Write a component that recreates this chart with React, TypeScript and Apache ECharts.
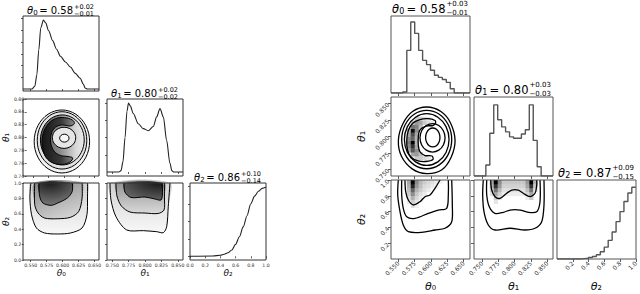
import React, { useEffect, useRef } from "react";
import * as echarts from "echarts";

const FONT = "DejaVu Sans";

// ---------------- axis ranges & ticks ----------------
const L_T0_RANGE = [0.539, 0.657];
const L_T1_RANGE = [0.742, 0.858];
const L_T1_YRANGE = [0.74, 0.86];
const R_T0_RANGE = [0.539, 0.66];
const R_T1_RANGE = [0.738, 0.859];
const R_T1_YRANGE = [0.74, 0.86];
const T2_RANGE = [0, 1];
const L_T0_DENS_RANGE = [-0.028, 1.027];
const L_T1_DENS_RANGE = [-0.058, 1.06];
const L_T2_DENS_RANGE = [-0.053, 1.047];
const R_T0_HIST_RANGE = [0, 1.085];
const R_T1_HIST_RANGE = [0, 1.11];
const R_T2_HIST_RANGE = [0, 1.1];

const T0_TICKS = [0.55, 0.575, 0.6, 0.625, 0.65];
const T1_TICKS = [0.75, 0.775, 0.8, 0.825, 0.85];
const L_T1_YTICKS = [0.74, 0.76, 0.78, 0.8, 0.82, 0.84, 0.86];
const L_T2_TICKS = [0, 0.2, 0.4, 0.6, 0.8, 1.0];
const R_T2_TICKS = [0.2, 0.4, 0.6, 0.8, 1.0];
const L_T0_DENS_TICKS = [0.165, 0.33, 0.495, 0.66, 0.825, 0.99];
const L_T1_DENS_TICKS = [0.25, 0.5, 0.75, 1.0];
const L_T2_DENS_TICKS = [0, 0.25, 0.5, 0.75, 1.0];

// ---------------- titles ----------------
const L_TITLES = [
  { sub: "0", val: "0.58", up: "+0.02", lo: "−0.01" },
  { sub: "1", val: "0.80", up: "+0.02", lo: "−0.02" },
  { sub: "2", val: "0.86", up: "+0.10", lo: "−0.14" },
];
const R_TITLES = [
  { sub: "0", val: "0.58", up: "+0.03", lo: "−0.01" },
  { sub: "1", val: "0.80", up: "+0.03", lo: "−0.03" },
  { sub: "2", val: "0.87", up: "+0.09", lo: "−0.15" },
];

// ---------------- left: smooth marginals [theta, density] ----------------
const L_T0_KDE = [[0.539, 0], [0.5528, 0], [0.5574, 0.04], [0.5605, 0.2], [0.5635, 0.55], [0.5666, 0.86], [0.5707, 0.97], [0.5742, 0.93], [0.5788, 0.82], [0.585, 0.68], [0.5911, 0.56], [0.5972, 0.46], [0.6049, 0.38], [0.6126, 0.31], [0.6202, 0.22], [0.6279, 0.15], [0.6325, 0.07], [0.6355, 0.015], [0.6386, 0], [0.657, 0]];
const L_T1_KDE = [[0.742, 0], [0.76, 0], [0.7634, 0.02], [0.7664, 0.15], [0.7695, 0.5], [0.7725, 0.88], [0.7748, 1.0], [0.7775, 0.96], [0.7821, 0.85], [0.7898, 0.7], [0.7974, 0.63], [0.805, 0.6], [0.8127, 0.66], [0.8178, 0.8], [0.8229, 0.92], [0.828, 0.8], [0.833, 0.46], [0.838, 0.13], [0.841, 0.02], [0.844, 0], [0.858, 0]];
const L_T2_KDE = [[0, 0], [0.3, 0.005], [0.4, 0.015], [0.45, 0.03], [0.5, 0.05], [0.55, 0.09], [0.6, 0.17], [0.65, 0.28], [0.7, 0.42], [0.75, 0.58], [0.8, 0.75], [0.85, 0.86], [0.9, 0.93], [0.95, 0.97], [1.0, 0.99]];

// ---------------- right: histogram heights (20 bins over the axis range) ----------------
const R_T0_HIST = [0, 0, 0, 0.014, 0.6, 1.0, 0.84, 0.6, 0.46, 0.4, 0.32, 0.25, 0.22, 0.19, 0.15, 0.06, 0, 0, 0, 0];
const R_T1_HIST = [0, 0, 0, 0.155, 0.6, 1.0, 0.79, 0.69, 0.62, 0.55, 0.53, 0.53, 0.59, 0.65, 1.0, 0.5, 0.13, 0, 0, 0];
const R_T2_HIST = [0, 0, 0, 0, 0, 0, 0.005, 0.01, 0.02, 0.035, 0.06, 0.1, 0.165, 0.26, 0.375, 0.52, 0.66, 0.8, 0.92, 1.0];

// ---------------- left 2D contours [x, y] ----------------
const L10_C1 = [[0.6417, 0.7938], [0.6356, 0.8184], [0.6191, 0.8363], [0.5965, 0.8429], [0.5739, 0.8363], [0.5574, 0.8184], [0.5513, 0.7938], [0.5574, 0.7692], [0.5739, 0.7513], [0.5965, 0.7447], [0.6191, 0.7513], [0.6356, 0.7692]];
const L10_C2 = [[0.6371, 0.7955], [0.6317, 0.8179], [0.6169, 0.8342], [0.5967, 0.8402], [0.5765, 0.8342], [0.5617, 0.8179], [0.5563, 0.7955], [0.5617, 0.7731], [0.5765, 0.7568], [0.5967, 0.7508], [0.6169, 0.7568], [0.6317, 0.7731]];
const L10_C3 = [[0.6329, 0.7962], [0.6281, 0.8157], [0.6151, 0.83], [0.5972, 0.8352], [0.5793, 0.83], [0.5663, 0.8157], [0.5615, 0.7962], [0.5663, 0.7767], [0.5793, 0.7624], [0.5972, 0.7572], [0.6151, 0.7624], [0.6281, 0.7767]];
const L10_C4 = [[0.6156, 0.8257], [0.6049, 0.8304], [0.5896, 0.8304], [0.5773, 0.8242], [0.5681, 0.8117], [0.5643, 0.7961], [0.5658, 0.7805], [0.5712, 0.7681], [0.5819, 0.7603], [0.5972, 0.758], [0.6095, 0.7618], [0.6141, 0.7681], [0.6064, 0.7704], [0.5942, 0.772], [0.5834, 0.779], [0.5781, 0.793], [0.5796, 0.807], [0.5865, 0.8164], [0.5972, 0.8195], [0.6095, 0.8179], [0.6164, 0.821]];
const L10_C5 = [[0.619, 0.7995], [0.6165, 0.8078], [0.6095, 0.8138], [0.6, 0.816], [0.5905, 0.8138], [0.5835, 0.8078], [0.581, 0.7995], [0.5835, 0.7913], [0.5905, 0.7852], [0.6, 0.783], [0.6095, 0.7852], [0.6165, 0.7913]];
const L10_C6 = [[0.6082, 0.799], [0.6059, 0.8034], [0.6005, 0.8052], [0.5951, 0.8034], [0.5928, 0.799], [0.5951, 0.7946], [0.6005, 0.7928], [0.6059, 0.7946]];

const L20_C1 = [[0.5502, 1.0], [0.5487, 0.805], [0.5513, 0.588], [0.5589, 0.416], [0.5716, 0.351], [0.5922, 0.338], [0.6125, 0.351], [0.6305, 0.416], [0.6381, 0.588], [0.639, 0.805], [0.639, 1.0]];
const L20_C2 = [[0.5563, 1.0], [0.5563, 0.718], [0.5615, 0.61], [0.5716, 0.545], [0.5922, 0.536], [0.6125, 0.555], [0.6253, 0.632], [0.6305, 0.805], [0.6305, 1.0]];
const L20_C3 = [[0.563, 1.0], [0.564, 0.827], [0.5692, 0.74], [0.5819, 0.71], [0.5922, 0.74], [0.6075, 0.805], [0.6151, 0.892], [0.6151, 1.0]];

const L21_C1 = [[0.7466, 1.0], [0.7481, 0.779], [0.7557, 0.562], [0.7721, 0.39], [0.7974, 0.381], [0.8178, 0.368], [0.8279, 0.355], [0.8331, 0.432], [0.8355, 0.692], [0.8381, 1.0]];
const L21_C2 = [[0.7557, 1.0], [0.7572, 0.831], [0.764, 0.701], [0.7771, 0.623], [0.8, 0.61], [0.8198, 0.604], [0.829, 0.649], [0.8297, 0.805], [0.8297, 1.0]];
const L21_C3 = [[0.7679, 1.0], [0.7694, 0.883], [0.7786, 0.812], [0.8, 0.818], [0.8152, 0.792], [0.8244, 0.779], [0.8267, 0.857], [0.8259, 1.0]];

// ---------------- right 2D contours [x, y] ----------------
const R10_C1 = [[0.6371, 0.7942], [0.63, 0.821], [0.6154, 0.838], [0.5937, 0.8448], [0.572, 0.838], [0.557, 0.819], [0.5503, 0.7942], [0.555, 0.77], [0.572, 0.7504], [0.5937, 0.7436], [0.6165, 0.749], [0.6313, 0.7689]];
const R10_C2 = [[0.632, 0.7954], [0.6269, 0.8176], [0.6129, 0.8339], [0.5937, 0.8398], [0.5745, 0.8339], [0.5605, 0.8176], [0.5554, 0.7954], [0.5605, 0.7732], [0.5745, 0.7569], [0.5937, 0.751], [0.6129, 0.7569], [0.6269, 0.7732]];
const R10_C3 = [[0.6279, 0.7954], [0.6233, 0.815], [0.6108, 0.8293], [0.5937, 0.8346], [0.5766, 0.8293], [0.5641, 0.815], [0.5595, 0.7954], [0.5641, 0.7758], [0.5766, 0.7615], [0.5937, 0.7562], [0.6108, 0.7615], [0.6233, 0.7758]];
const R10_C4 = [[0.6064, 0.8243], [0.5957, 0.827], [0.5834, 0.8258], [0.5727, 0.8205], [0.5658, 0.8099], [0.5631, 0.7947], [0.5643, 0.7795], [0.5696, 0.7689], [0.5804, 0.7628], [0.5926, 0.762], [0.6033, 0.7651], [0.6018, 0.7704], [0.5911, 0.7711], [0.5834, 0.7765], [0.5808, 0.7871], [0.5808, 0.7992], [0.5834, 0.8099], [0.5926, 0.8159], [0.6033, 0.8167], [0.6072, 0.8205]];
const R10_C5 = [[0.6218, 0.798], [0.6192, 0.8088], [0.6122, 0.8167], [0.6026, 0.8196], [0.593, 0.8167], [0.586, 0.8088], [0.5834, 0.798], [0.586, 0.7872], [0.593, 0.7793], [0.6026, 0.7764], [0.6122, 0.7793], [0.6192, 0.7872]];
const R10_C6 = [[0.614, 0.7985], [0.6125, 0.8057], [0.6085, 0.811], [0.603, 0.8129], [0.5975, 0.811], [0.5935, 0.8057], [0.592, 0.7985], [0.5935, 0.7913], [0.5975, 0.786], [0.603, 0.7841], [0.6085, 0.786], [0.6125, 0.7913]];

const R20_C1 = [[0.5502, 1.0], [0.5493, 0.81], [0.5528, 0.599], [0.5578, 0.43], [0.5655, 0.346], [0.586, 0.338], [0.6064, 0.367], [0.6217, 0.389], [0.632, 0.472], [0.6329, 0.684], [0.632, 1.0]];
const R20_C2 = [[0.5554, 1.0], [0.5554, 0.81], [0.5578, 0.642], [0.5631, 0.535], [0.5758, 0.515], [0.5961, 0.578], [0.6115, 0.62], [0.6243, 0.642], [0.6268, 0.81], [0.6268, 1.0]];
const R20_C3 = [[0.5604, 1.0], [0.5615, 0.852], [0.5655, 0.747], [0.5732, 0.684], [0.5834, 0.725], [0.5911, 0.789], [0.5987, 0.81], [0.6064, 0.895], [0.6141, 1.0]];

const R21_C1 = [[0.7522, 1.0], [0.7513, 0.81], [0.7533, 0.599], [0.7599, 0.43], [0.7702, 0.367], [0.7932, 0.389], [0.8161, 0.367], [0.8315, 0.389], [0.8417, 0.472], [0.8452, 0.684], [0.8452, 1.0]];
const R21_C2 = [[0.7575, 1.0], [0.7575, 0.81], [0.7614, 0.662], [0.7702, 0.578], [0.7829, 0.591], [0.7932, 0.62], [0.8085, 0.62], [0.8212, 0.591], [0.8341, 0.599], [0.8391, 0.725], [0.8391, 1.0]];
const R21_C3 = [[0.7636, 1.0], [0.7651, 0.873], [0.7702, 0.789], [0.7778, 0.768], [0.7881, 0.832], [0.7958, 0.873], [0.8059, 0.873], [0.8135, 0.832], [0.8238, 0.789], [0.8315, 0.832], [0.8341, 0.935], [0.8341, 1.0]];

// ---------------- right 2D histogram cells: [x bin, first y bin, values upward] ----------------
const R10_CELLS: [number, number, number[]][] = [
  [4, 6, [0.35, 0.45, 0.5, 0.45, 0.35, 0.28]],
  [5, 5, [0.35, 0.65, 0.8, 1, 0.6, 0.7, 0.95, 0.55, 0.25]],
  [6, 4, [0.2, 0.4, 0.45, 0.35, 0.3, 0.3, 0.35, 0.45, 0.5, 0.4, 0.2]],
  [7, 4, [0.2, 0.25]], [7, 12, [0.25, 0.35, 0.2]],
  [8, 4, [0.15]], [8, 13, [0.2, 0.15]],
  [9, 4, [0.1]], [9, 13, [0.12, 0.1]],
  [10, 13, [0.08]],
];
const R20_CELLS: [number, number, number[]][] = [
  [4, 14, [0.08, 0.12, 0.2, 0.25, 0.3, 0.35]],
  [5, 13, [0.12, 0.2, 0.3, 0.45, 0.6, 0.85, 1]],
  [6, 13, [0.06, 0.1, 0.15, 0.22, 0.3, 0.4, 0.45]],
  [7, 15, [0.08, 0.12, 0.2, 0.25, 0.28]],
  [8, 16, [0.07, 0.12, 0.15, 0.2]],
  [9, 17, [0.07, 0.12, 0.15]],
  [10, 18, [0.08, 0.12]],
  [11, 18, [0.05, 0.08]],
  [12, 19, [0.05]],
];
const R21_CELLS: [number, number, number[]][] = [
  [4, 16, [0.12, 0.2, 0.3, 0.35]],
  [5, 14, [0.1, 0.2, 0.35, 0.55, 0.8, 1]],
  [6, 15, [0.1, 0.18, 0.28, 0.4, 0.45]],
  [7, 16, [0.07, 0.12, 0.18, 0.22]],
  [8, 16, [0.07, 0.12, 0.18, 0.22]],
  [9, 16, [0.07, 0.12, 0.18, 0.22]],
  [10, 16, [0.07, 0.12, 0.18, 0.22]],
  [11, 16, [0.07, 0.12, 0.18, 0.22]],
  [12, 16, [0.07, 0.12, 0.18, 0.22]],
  [13, 15, [0.08, 0.16, 0.25, 0.35, 0.4]],
  [14, 15, [0.2, 0.35, 0.55, 0.8, 1]],
  [15, 17, [0.12, 0.22, 0.3]],
];

// ---------------- layout ----------------
const LC = [23, 107, 190];
const LR = [16, 99, 183];
const LW = 76;
const LH = [75, 77, 77];
const RC = [391, 474, 557];
const RR = [16, 97, 180];
const RW = 79;
const RH = [77, 79, 79];
const SUBS = ["₀", "₁", "₂"];

type AxisSpec = { range: number[]; ticks?: number[]; labels?: boolean; dec?: number; name?: number };
type PanelSpec = { side: "L" | "R"; row: number; col: number; x: AxisSpec; y: AxisSpec };

const PANELS: PanelSpec[] = [
  { side: "L", row: 0, col: 0, x: { range: L_T0_RANGE, ticks: T0_TICKS }, y: { range: L_T0_DENS_RANGE, ticks: L_T0_DENS_TICKS } },
  { side: "L", row: 1, col: 0, x: { range: L_T0_RANGE, ticks: T0_TICKS }, y: { range: L_T1_YRANGE, ticks: L_T1_YTICKS, labels: true, dec: 2, name: 1 } },
  { side: "L", row: 1, col: 1, x: { range: L_T1_RANGE, ticks: T1_TICKS }, y: { range: L_T1_DENS_RANGE, ticks: L_T1_DENS_TICKS } },
  { side: "L", row: 2, col: 0, x: { range: L_T0_RANGE, ticks: T0_TICKS, labels: true, dec: 3, name: 0 }, y: { range: T2_RANGE, ticks: L_T2_TICKS, labels: true, dec: 1, name: 2 } },
  { side: "L", row: 2, col: 1, x: { range: L_T1_RANGE, ticks: T1_TICKS, labels: true, dec: 3, name: 1 }, y: { range: T2_RANGE, ticks: L_T2_TICKS } },
  { side: "L", row: 2, col: 2, x: { range: T2_RANGE, ticks: L_T2_TICKS, labels: true, dec: 1, name: 2 }, y: { range: L_T2_DENS_RANGE, ticks: L_T2_DENS_TICKS } },
  { side: "R", row: 0, col: 0, x: { range: R_T0_RANGE, ticks: T0_TICKS }, y: { range: R_T0_HIST_RANGE } },
  { side: "R", row: 1, col: 0, x: { range: R_T0_RANGE, ticks: T0_TICKS }, y: { range: R_T1_YRANGE, ticks: T1_TICKS, labels: true, dec: 3, name: 1 } },
  { side: "R", row: 1, col: 1, x: { range: R_T1_RANGE, ticks: T1_TICKS }, y: { range: R_T1_HIST_RANGE } },
  { side: "R", row: 2, col: 0, x: { range: R_T0_RANGE, ticks: T0_TICKS, labels: true, dec: 3, name: 0 }, y: { range: T2_RANGE, ticks: R_T2_TICKS, labels: true, dec: 1, name: 2 } },
  { side: "R", row: 2, col: 1, x: { range: R_T1_RANGE, ticks: T1_TICKS, labels: true, dec: 3, name: 1 }, y: { range: T2_RANGE, ticks: R_T2_TICKS } },
  { side: "R", row: 2, col: 2, x: { range: T2_RANGE, ticks: R_T2_TICKS, labels: true, dec: 1, name: 2 }, y: { range: R_T2_HIST_RANGE } },
];

function rect(p: PanelSpec) {
  if (p.side === "L") return { left: LC[p.col], top: LR[p.row], width: LW, height: LH[p.row] };
  return { left: RC[p.col], top: RR[p.row], width: RW, height: RH[p.row] };
}

function axisOpt(idx: number, p: PanelSpec, a: AxisSpec, isX: boolean) {
  const L = p.side === "L";
  const o: any = {
    type: "value",
    gridIndex: idx,
    min: a.range[0],
    max: a.range[1],
    axisLine: { show: false },
    splitLine: { show: false },
    axisTick: a.ticks
      ? { show: true, customValues: a.ticks, length: L ? 2 : 3, lineStyle: { color: "#333", width: 0.8 } }
      : { show: false },
    axisLabel: a.labels
      ? {
          show: true,
          customValues: a.ticks,
          formatter: (v: number) => v.toFixed(a.dec ?? 2),
          fontFamily: FONT,
          fontSize: L ? 4.6 : 6,
          color: "#333",
          margin: L ? 2.5 : 3,
          rotate: L ? 0 : 45,
        }
      : { show: false },
  };
  if (a.name !== undefined) {
    const fs = L ? 9 : 11;
    o.name = `{i|θ}{n|${SUBS[a.name]}}`;
    o.nameLocation = "middle";
    o.nameGap = isX ? (L ? 8 : 22) : L ? 13 : 24;
    o.nameTextStyle = {
      fontFamily: FONT,
      fontSize: fs,
      color: "#111",
      rich: {
        i: { fontFamily: FONT, fontSize: fs, fontStyle: "italic", color: "#111" },
        n: { fontFamily: FONT, fontSize: fs, color: "#111" },
      },
    };
  }
  return o;
}

type Contour = { pts: number[][]; fill?: any; open?: boolean };

const lin = (x: number, y: number, x2: number, y2: number, stops: [number, string][]) => ({
  type: "linear", x, y, x2, y2, colorStops: stops.map(([offset, color]) => ({ offset, color })),
});
const rad = (x: number, y: number, r: number, stops: [number, string][]) => ({
  type: "radial", x, y, r, colorStops: stops.map(([offset, color]) => ({ offset, color })),
});

function contourSeries(idx: number, list: Contour[], smooth: number, lw: number) {
  return {
    type: "custom",
    xAxisIndex: idx,
    yAxisIndex: idx,
    silent: true,
    data: list.map((c) => c.pts[0]),
    renderItem: (params: any, api: any) => {
      const c = list[params.dataIndex];
      const pts = c.pts.map((q) => api.coord(q));
      const children: any[] = [];
      if (c.fill) children.push({ type: "polygon", shape: { points: pts, smooth }, style: { fill: c.fill, stroke: "none" } });
      children.push({
        type: c.open ? "polyline" : "polygon",
        shape: { points: pts, smooth },
        style: { fill: "none", stroke: "#000", lineWidth: lw },
      });
      return { type: "group", children };
    },
  };
}

function cellSeries(idx: number, cells: [number, number, number[]][], xr: number[], yr: number[], n: number) {
  const wx = (xr[1] - xr[0]) / n;
  const wy = (yr[1] - yr[0]) / n;
  const data: number[][] = [];
  cells.forEach(([i, j0, vs]) => vs.forEach((v, k) => data.push([xr[0] + (i + 0.5) * wx, yr[0] + (j0 + k + 0.5) * wy, v])));
  return {
    type: "custom",
    xAxisIndex: idx,
    yAxisIndex: idx,
    silent: true,
    data,
    renderItem: (params: any, api: any) => {
      const x = api.value(0), y = api.value(1), v = api.value(2);
      const a = api.coord([x - wx / 2, y + wy / 2]);
      const b = api.coord([x + wx / 2, y - wy / 2]);
      const g = Math.round(255 * (1 - v));
      return {
        type: "rect",
        shape: { x: a[0], y: a[1], width: b[0] - a[0] + 0.3, height: b[1] - a[1] + 0.3 },
        style: { fill: `rgb(${g},${g},${g})`, stroke: "none" },
      };
    },
  };
}

function histData(range: number[], h: number[]) {
  const w = (range[1] - range[0]) / h.length;
  const d = h.map((v, k) => [range[0] + k * w, v]);
  d.push([range[1], h[h.length - 1]]);
  return d;
}

function kdeSeries(idx: number, data: number[][]) {
  return {
    type: "line", xAxisIndex: idx, yAxisIndex: idx, data, symbol: "none", smooth: 0.3, smoothMonotone: "x",
    lineStyle: { color: "#222", width: 1.1 }, silent: true,
  };
}
function histSeries(idx: number, range: number[], h: number[]) {
  return {
    type: "line", xAxisIndex: idx, yAxisIndex: idx, data: histData(range, h), symbol: "none", step: "end",
    lineStyle: { color: "#555", width: 1.4 }, silent: true,
  };
}

function titleEls(side: "L" | "R", k: number, t: any) {
  const L = side === "L";
  const left = L ? LC[k] : RC[k];
  const top = L ? LR[k] : RR[k];
  const ax = left + (L ? 50 : 54.5);
  const mfs = L ? 10 : 11.5;
  const sfs = L ? 6.5 : 7;
  const subFs = L ? 7 : 8;
  const my = top - (L ? 5.5 : 7.5);
  const sy = top - (L ? 9.5 : 12);
  const by = top - (L ? 2 : 3.5);
  const thetaX = ax - (L ? 40 : 46.5);
  const base = { fontFamily: FONT, fill: "#000", verticalAlign: "middle" };
  return [
    { type: "text", z: 101, silent: true, x: ax, y: my, style: { ...base, text: `= ${t.val}`, fontSize: mfs, align: "right" } },
    { type: "text", z: 101, silent: true, x: thetaX, y: my, style: { ...base, text: "θ", fontSize: mfs, fontStyle: "italic", align: "right" } },
    { type: "text", z: 101, silent: true, x: thetaX + 0.3, y: my + (L ? 2.8 : 3.2), style: { ...base, text: t.sub, fontSize: subFs, align: "left" } },
    { type: "text", z: 101, silent: true, x: ax + 1, y: sy, style: { ...base, text: t.up, fontSize: sfs, align: "left" } },
    { type: "text", z: 101, silent: true, x: ax + 1, y: by, style: { ...base, text: t.lo, fontSize: sfs, align: "left" } },
  ];
}

function buildOption() {
  const L10: Contour[] = [
    { pts: L10_C1, fill: "#f3f3f3" },
    { pts: L10_C2, fill: "#e2e2e2" },
    { pts: L10_C3, fill: lin(0, 0, 1, 0, [[0, "#555"], [0.45, "#8a8a8a"], [0.8, "#d6d6d6"], [1, "#ededed"]]) },
    { pts: L10_C4, fill: lin(0, 0, 1, 0, [[0, "#151515"], [0.6, "#3a3a3a"], [1, "#8a8a8a"]]) },
    { pts: L10_C5, fill: "#e6e6e6" },
    { pts: L10_C6, fill: "#f7f7f7" },
  ];
  const L20: Contour[] = [
    { pts: L20_C1, open: true, fill: lin(0, 0, 0, 1, [[0, "#cdcdcd"], [1, "#f8f8f8"]]) },
    { pts: L20_C2, open: true, fill: lin(0.3, 0, 0.8, 1, [[0, "#8c8c8c"], [1, "#d8d8d8"]]) },
    { pts: L20_C3, open: true, fill: rad(0.35, 0, 1, [[0, "#151515"], [1, "#777"]]) },
  ];
  const L21: Contour[] = [
    { pts: L21_C1, open: true, fill: lin(0, 0, 0, 1, [[0, "#cfcfcf"], [1, "#f8f8f8"]]) },
    { pts: L21_C2, open: true, fill: lin(0, 0, 0, 1, [[0, "#8f8f8f"], [1, "#dadada"]]) },
    { pts: L21_C3, open: true, fill: rad(0.9, 0, 1.1, [[0, "#111"], [1, "#666"]]) },
  ];
  const R10: Contour[] = [R10_C1, R10_C2, R10_C3, R10_C4, R10_C5, R10_C6].map((pts) => ({ pts }));
  const R20: Contour[] = [R20_C1, R20_C2, R20_C3].map((pts) => ({ pts, open: true }));
  const R21: Contour[] = [R21_C1, R21_C2, R21_C3].map((pts) => ({ pts, open: true }));

  const series: any[] = [
    kdeSeries(0, L_T0_KDE),
    contourSeries(1, L10, 0.35, 1),
    kdeSeries(2, L_T1_KDE),
    contourSeries(3, L20, 0.3, 1),
    contourSeries(4, L21, 0.3, 1),
    kdeSeries(5, L_T2_KDE),
    histSeries(6, R_T0_RANGE, R_T0_HIST),
    cellSeries(7, R10_CELLS, R_T0_RANGE, R_T1_YRANGE, 20),
    contourSeries(7, R10, 0.3, 1.3),
    histSeries(8, R_T1_RANGE, R_T1_HIST),
    cellSeries(9, R20_CELLS, R_T0_RANGE, T2_RANGE, 20),
    contourSeries(9, R20, 0.3, 1.3),
    cellSeries(10, R21_CELLS, R_T1_RANGE, T2_RANGE, 20),
    contourSeries(10, R21, 0.3, 1.3),
    histSeries(11, T2_RANGE, R_T2_HIST),
  ];

  const graphic: any[] = [];
  PANELS.forEach((p) => {
    const r = rect(p);
    graphic.push({
      type: "rect", z: 100, silent: true,
      shape: { x: r.left, y: r.top, width: r.width, height: r.height },
      style: { fill: "none", stroke: p.side === "L" ? "#333" : "#555", lineWidth: 1 },
    });
  });
  L_TITLES.forEach((t, k) => graphic.push(...titleEls("L", k, t)));
  R_TITLES.forEach((t, k) => graphic.push(...titleEls("R", k, t)));

  return {
    animation: false,
    backgroundColor: "#fff",
    grid: PANELS.map((p) => ({ ...rect(p), containLabel: false, show: false })),
    xAxis: PANELS.map((p, i) => axisOpt(i, p, p.x, true)),
    yAxis: PANELS.map((p, i) => axisOpt(i, p, p.y, false)),
    series,
    graphic,
  };
}

export default function App() {
  const ref = useRef<HTMLDivElement>(null);
  useEffect(() => {
    const chart = echarts.init(ref.current!, null, { renderer: "svg" });
    chart.setOption(buildOption() as any);
    return () => chart.dispose();
  }, []);
  return <div ref={ref} style={{ position: "fixed", left: 0, top: 0, width: 640, height: 294, background: "#fff" }} />;
}
